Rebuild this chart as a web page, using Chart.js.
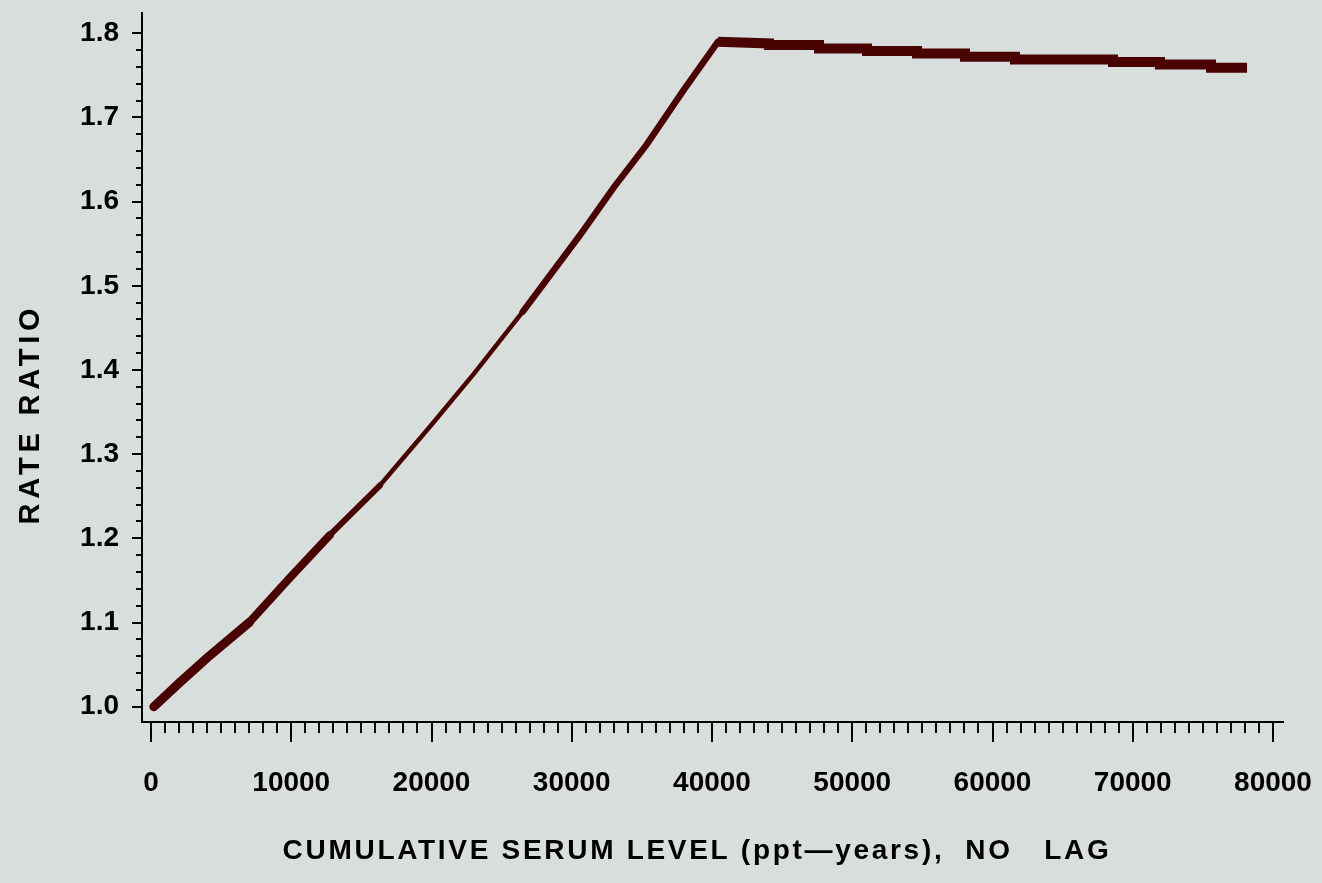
<!DOCTYPE html>
<html>
<head>
<meta charset="utf-8">
<title>Rate ratio by cumulative serum level</title>
<script src="https://cdn.jsdelivr.net/npm/chart.js@4.4.1/dist/chart.umd.min.js"></script>
<style>
  html, body { margin: 0; padding: 0; background: #d8dedb; }
  #wrap { width: 1322px; height: 883px; position: relative; }
  canvas { display: block; }
</style>
</head>
<body>
<div id="wrap"><canvas id="chart" width="1322" height="883"></canvas></div>
<script>
// Fitted rate ratio against cumulative serum level (ppt-years), no lag.
const serumLevel = [
  200, 2000, 4000, 7000, 10000, 12760, 16330, 20000, 23000, 26500,
  30580, 33000, 35350, 38000, 40430,
  44060, 44060, 47630, 47630, 51050, 51050, 54620, 54620, 58040,
  58040, 61600, 61600, 68590, 68590, 71940, 71940, 75580, 75580, 78150
];
const rateRatio = [
  1.000, 1.028, 1.058, 1.100, 1.155, 1.204, 1.263, 1.335, 1.395, 1.469,
  1.560, 1.617, 1.668, 1.733, 1.790,
  1.788, 1.786, 1.786, 1.782, 1.782, 1.779, 1.779, 1.776, 1.776,
  1.772, 1.772, 1.769, 1.769, 1.766, 1.766, 1.763, 1.763, 1.759, 1.759
];

// Axis tick labels
const xTickValues = [0, 10000, 20000, 30000, 40000, 50000, 60000, 70000, 80000];
const yTickValues = [1.0, 1.1, 1.2, 1.3, 1.4, 1.5, 1.6, 1.7, 1.8];
const xTitle = 'CUMULATIVE SERUM LEVEL (ppt\u2014years),  NO   LAG';
const yTitle = 'RATE RATIO';

const BG = '#d8dedb';
const INK = '#000000';
const LINE = '#4a0303';
const FONT = "'Liberation Sans', Arial, Helvetica, sans-serif";

// Stroke width along the curve: heavier at the ends, thinner mid-way up.
function strokeWidthAt(x) {
  if (x < 7000) return 9;
  if (x < 12700) return 8;
  if (x < 16300) return 6;
  if (x < 26500) return 4.5;
  if (x < 40400) return 6.5;
  return 10;
}

const paintBackground = {
  id: 'paintBackground',
  beforeDraw(chart) {
    const { ctx, width, height } = chart;
    ctx.save();
    ctx.fillStyle = BG;
    ctx.fillRect(0, 0, width, height);
    ctx.restore();
  }
};

// Major and minor tick marks on both axes
const tickMarks = {
  id: 'tickMarks',
  afterDraw(chart) {
    const { ctx, chartArea } = chart;
    const xs = chart.scales.x, ys = chart.scales.y;
    ctx.save();
    ctx.strokeStyle = INK;
    ctx.lineWidth = 2;
    ctx.beginPath();
    const x0 = xTickValues[0], x1 = xTickValues[xTickValues.length - 1];
    for (let v = x0; v <= x1 + 1; v += 1000) {
      const major = xTickValues.includes(v);
      const px = Math.round(xs.getPixelForValue(v));
      ctx.moveTo(px, chartArea.bottom);
      ctx.lineTo(px, chartArea.bottom + (major ? 20 : 11));
    }
    const y0 = yTickValues[0], y1 = yTickValues[yTickValues.length - 1];
    const nY = Math.round((y1 - y0) / 0.02);
    for (let i = 0; i <= nY; i++) {
      const v = y0 + i * 0.02;
      const major = i % 5 === 0;
      const py = Math.round(ys.getPixelForValue(v));
      ctx.moveTo(chartArea.left, py);
      ctx.lineTo(chartArea.left - (major ? 10 : 6), py);
    }
    ctx.stroke();
    ctx.restore();
  }
};

// Axis titles, drawn with the wide letter spacing of the labels
const axisTitles = {
  id: 'axisTitles',
  afterDraw(chart) {
    const { ctx } = chart;
    ctx.save();
    ctx.fillStyle = INK;
    ctx.textAlign = 'center';
    ctx.textBaseline = 'middle';
    ctx.font = 'bold 28px ' + FONT;
    if ('letterSpacing' in ctx) ctx.letterSpacing = '2.7px';
    ctx.fillText(xTitle, 697, 851);
    ctx.translate(31, 414);
    ctx.rotate(-Math.PI / 2);
    ctx.font = 'bold 29px ' + FONT;
    if ('letterSpacing' in ctx) ctx.letterSpacing = '4.8px';
    ctx.fillText(yTitle, 0, 0);
    ctx.restore();
  }
};

new Chart(document.getElementById('chart'), {
  type: 'line',
  data: {
    datasets: [{
      data: serumLevel.map((x, i) => ({ x, y: rateRatio[i] })),
      borderColor: LINE,
      borderWidth: 6,
      borderJoinStyle: 'miter',
      pointRadius: 0,
      tension: 0,
      fill: false,
      segment: {
        borderWidth: c => strokeWidthAt(c.p0.parsed.x),
        borderCapStyle: c => (c.p0.parsed.x >= 40400 ? 'butt' : 'round')
      }
    }]
  },
  options: {
    responsive: false,
    animation: false,
    devicePixelRatio: 1,
    layout: { padding: { left: 0, top: 13, right: 39, bottom: 0 } },
    plugins: {
      legend: { display: false },
      tooltip: { enabled: false },
      title: { display: false }
    },
    scales: {
      x: {
        type: 'linear',
        min: -642,
        max: 80713,
        afterBuildTicks: s => { s.ticks = xTickValues.map(v => ({ value: v })); },
        afterFit: s => { s.height = 161; },
        grid: { display: false, drawTicks: true, tickLength: 44 },
        border: { display: true, color: INK, width: 2 },
        ticks: {
          color: INK,
          padding: 0,
          maxRotation: 0,
          autoSkip: false,
          font: { family: FONT, size: 28, weight: 'bold', lineHeight: 1.2 },
          callback: v => String(v)
        }
      },
      y: {
        type: 'linear',
        min: 0.9818,
        max: 1.8241,
        afterBuildTicks: s => { s.ticks = yTickValues.map(v => ({ value: v })); },
        afterFit: s => { s.width = 142; },
        grid: { display: false, drawTicks: true, tickLength: 23 },
        border: { display: true, color: INK, width: 2 },
        ticks: {
          color: INK,
          padding: 0,
          autoSkip: false,
          font: { family: FONT, size: 28, weight: 'bold', lineHeight: 0.9 },
          callback: v => Number(v).toFixed(1)
        }
      }
    }
  },
  plugins: [paintBackground, tickMarks, axisTitles]
});
</script>
</body>
</html>
